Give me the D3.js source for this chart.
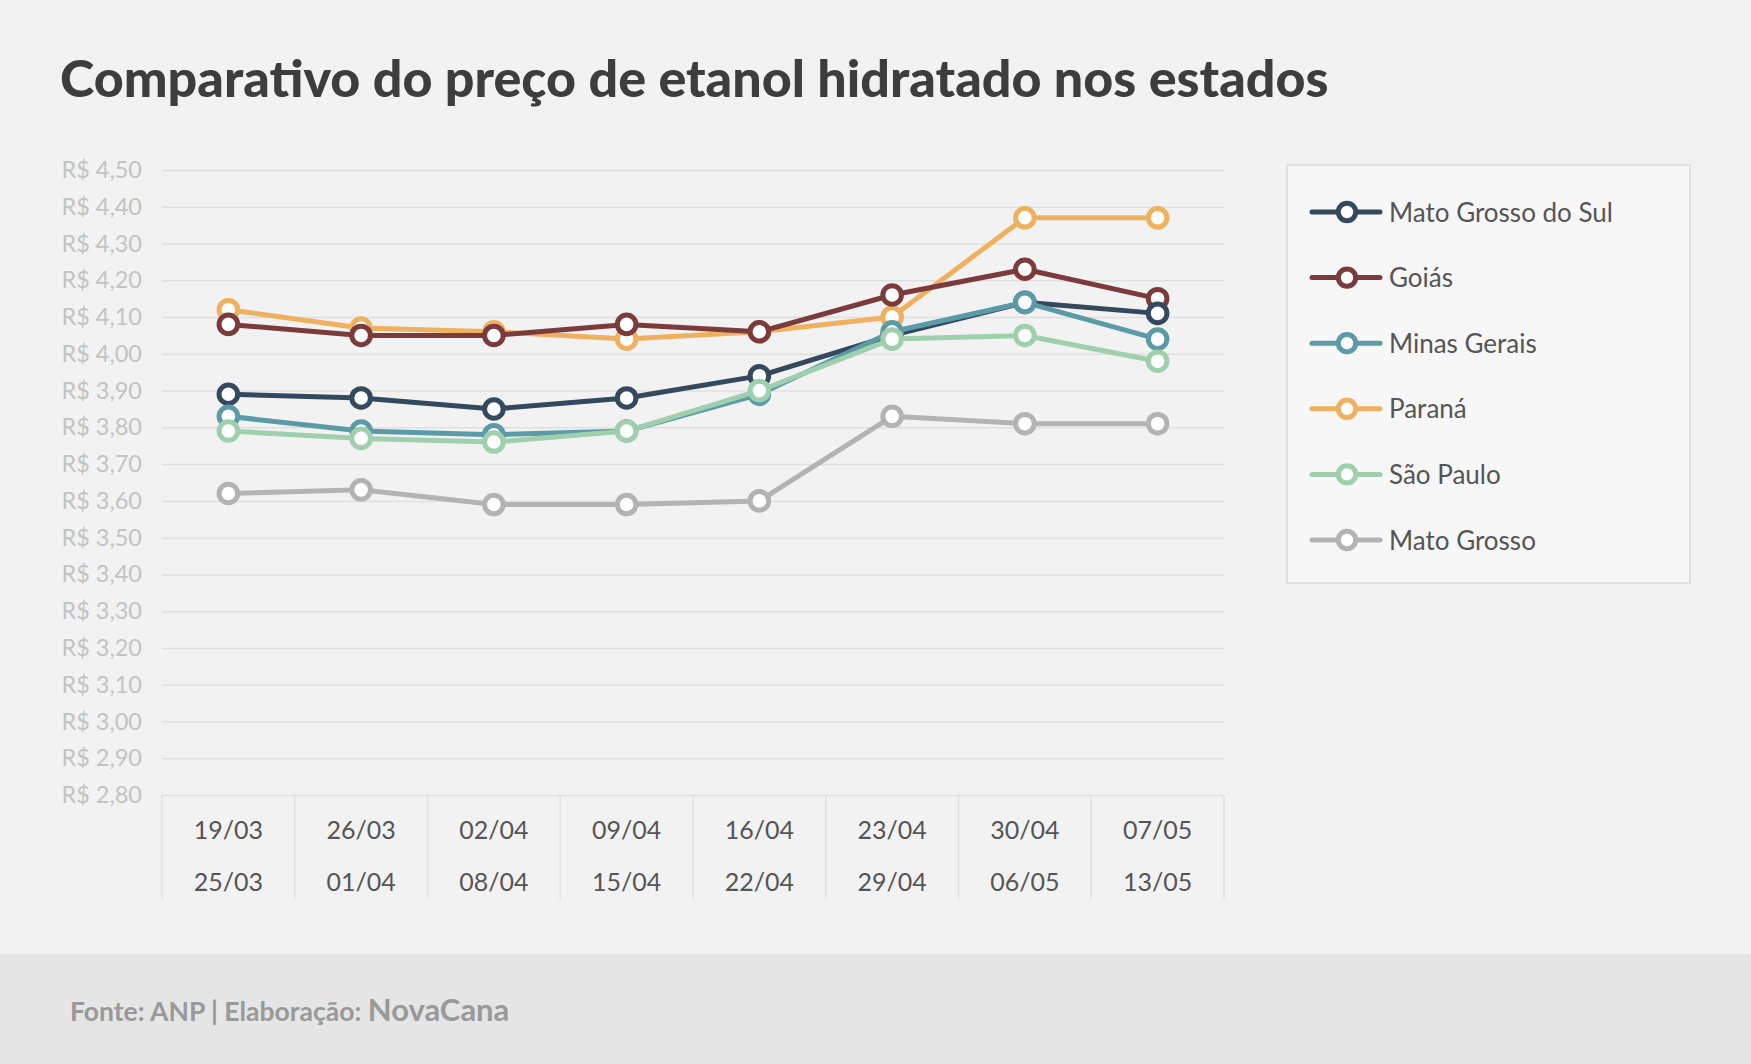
<!DOCTYPE html>
<html>
<head>
<meta charset="utf-8">
<script src="https://cdn.jsdelivr.net/npm/d3@7"></script>
<style>
  html, body { margin: 0; padding: 0; background: #f2f2f2; }
  svg { display: block; font-family: Lato, "Open Sans", sans-serif; }
</style>
</head>
<body>
<svg id="chart" width="1751" height="1064"></svg>
<script>
// ---- data ----
const weekStart = ["19/03","26/03","02/04","09/04","16/04","23/04","30/04","07/05"];
const weekEnd   = ["25/03","01/04","08/04","15/04","22/04","29/04","06/05","13/05"];
const yTicks = [2.8,2.9,3.0,3.1,3.2,3.3,3.4,3.5,3.6,3.7,3.8,3.9,4.0,4.1,4.2,4.3,4.4,4.5];

const legendOrder = ["Mato Grosso do Sul","Goiás","Minas Gerais","Paraná","São Paulo","Mato Grosso"];
const matoGrossoDoSul = [3.89,3.88,3.85,3.88,3.94,4.05,4.14,4.11];
const goias           = [4.08,4.05,4.05,4.08,4.06,4.16,4.23,4.15];
const minasGerais     = [3.83,3.79,3.78,3.79,3.89,4.06,4.14,4.04];
const parana          = [4.12,4.07,4.06,4.04,4.06,4.10,4.37,4.37];
const saoPaulo        = [3.79,3.77,3.76,3.79,3.90,4.04,4.05,3.98];
const matoGrosso      = [3.62,3.63,3.59,3.59,3.60,3.83,3.81,3.81];

const colors = {
  "Mato Grosso do Sul": "#34495e",
  "Goiás": "#7b3a3b",
  "Minas Gerais": "#5b9aa7",
  "Paraná": "#efb160",
  "São Paulo": "#a0cfae",
  "Mato Grosso": "#b3b3b3"
};
const seriesData = {
  "Mato Grosso do Sul": matoGrossoDoSul,
  "Goiás": goias,
  "Minas Gerais": minasGerais,
  "Paraná": parana,
  "São Paulo": saoPaulo,
  "Mato Grosso": matoGrosso
};
// drawing order (bottom to top)
const drawOrder = ["Paraná","Goiás","Mato Grosso do Sul","Minas Gerais","São Paulo","Mato Grosso"];

// ---- layout ----
const svg = d3.select("#chart");
const W = 1751, H = 1064;
const plot = {left: 162, right: 1224, top: 170, bottom: 795};
const axisBottom = 899;

svg.append("rect").attr("width", W).attr("height", H).attr("fill", "#f2f2f2");

// title
svg.append("text")
  .attr("x", 60).attr("y", 97)
  .attr("font-size", 52).attr("font-weight", 900)
  .attr("fill", "#3d3d3d")
  .text("Comparativo do preço de etanol hidratado nos estados");

const x = d3.scaleBand().domain(weekStart).range([plot.left, plot.right]).paddingInner(0).paddingOuter(0);
const y = d3.scaleLinear().domain([2.8, 4.5]).range([plot.bottom, plot.top]);
const cx = i => x(weekStart[i]) + x.bandwidth() / 2;

// y axis with gridlines
const fmt = v => "R$ " + v.toFixed(2).replace(".", ",");
const yAxis = svg.append("g")
  .attr("transform", `translate(${plot.left},0)`)
  .call(d3.axisLeft(y).tickValues(yTicks).tickFormat(fmt).tickSize(-(plot.right - plot.left)).tickPadding(20));
yAxis.select(".domain").remove();
yAxis.selectAll(".tick line").attr("stroke", "#e0e0e0").attr("stroke-width", 1.5);
yAxis.selectAll(".tick text")
  .attr("fill", "#c3c3c3").attr("font-size", 23.5)
  .attr("font-family", "Lato, sans-serif");

// x axis table
const xg = svg.append("g");
const edges = weekStart.map(d => x(d)).concat([plot.right]);
xg.selectAll("line.sep").data(edges).join("line")
  .attr("x1", d => d).attr("x2", d => d)
  .attr("y1", plot.bottom).attr("y2", axisBottom)
  .attr("stroke", "#e0e0e0").attr("stroke-width", 1.5);
xg.selectAll("text.l1").data(weekStart).join("text")
  .attr("x", (d, i) => cx(i)).attr("y", 839)
  .attr("text-anchor", "middle").attr("font-size", 25).attr("fill", "#555555")
  .text(d => d);
xg.selectAll("text.l2").data(weekEnd).join("text")
  .attr("x", (d, i) => cx(i)).attr("y", 891)
  .attr("text-anchor", "middle").attr("font-size", 25).attr("fill", "#555555")
  .text(d => d);

// lines + markers
const line = d3.line().x((d, i) => cx(i)).y(d => y(d));
drawOrder.forEach(name => {
  const g = svg.append("g");
  g.append("path")
    .datum(seriesData[name])
    .attr("d", line)
    .attr("fill", "none")
    .attr("stroke", colors[name])
    .attr("stroke-width", 5)
    .attr("stroke-linejoin", "round");
  g.selectAll("circle").data(seriesData[name]).join("circle")
    .attr("cx", (d, i) => cx(i)).attr("cy", d => y(d))
    .attr("r", 9.3)
    .attr("fill", "#ffffff")
    .attr("stroke", colors[name])
    .attr("stroke-width", 5);
});

// legend
const lg = svg.append("g");
lg.append("rect")
  .attr("x", 1287).attr("y", 165).attr("width", 403).attr("height", 418)
  .attr("fill", "#f7f7f7").attr("stroke", "#e0e0e0").attr("stroke-width", 2);
const items = lg.selectAll("g.item").data(legendOrder).join("g")
  .attr("transform", (d, i) => `translate(0, ${212 + i * 65.6})`);
items.append("line")
  .attr("x1", 1312).attr("x2", 1380).attr("y1", 0).attr("y2", 0)
  .attr("stroke", d => colors[d]).attr("stroke-width", 5).attr("stroke-linecap", "round");
items.append("circle")
  .attr("cx", 1347).attr("cy", 0).attr("r", 8.7)
  .attr("fill", "#ffffff").attr("stroke", d => colors[d]).attr("stroke-width", 5);
items.append("text")
  .attr("x", 1389).attr("y", 9.5)
  .attr("font-size", 26).attr("fill", "#555555")
  .text(d => d);

// footer
svg.append("rect").attr("x", 0).attr("y", 954).attr("width", W).attr("height", H - 954).attr("fill", "#e5e5e5");
const ft = svg.append("text").attr("x", 70).attr("y", 1021).attr("fill", "#999999").attr("font-weight", 700);
ft.append("tspan").attr("font-size", 26.5).text("Fonte: ANP | Elaboração: ");
ft.append("tspan").attr("font-size", 31).text("NovaCana");
</script>
</body>
</html>
